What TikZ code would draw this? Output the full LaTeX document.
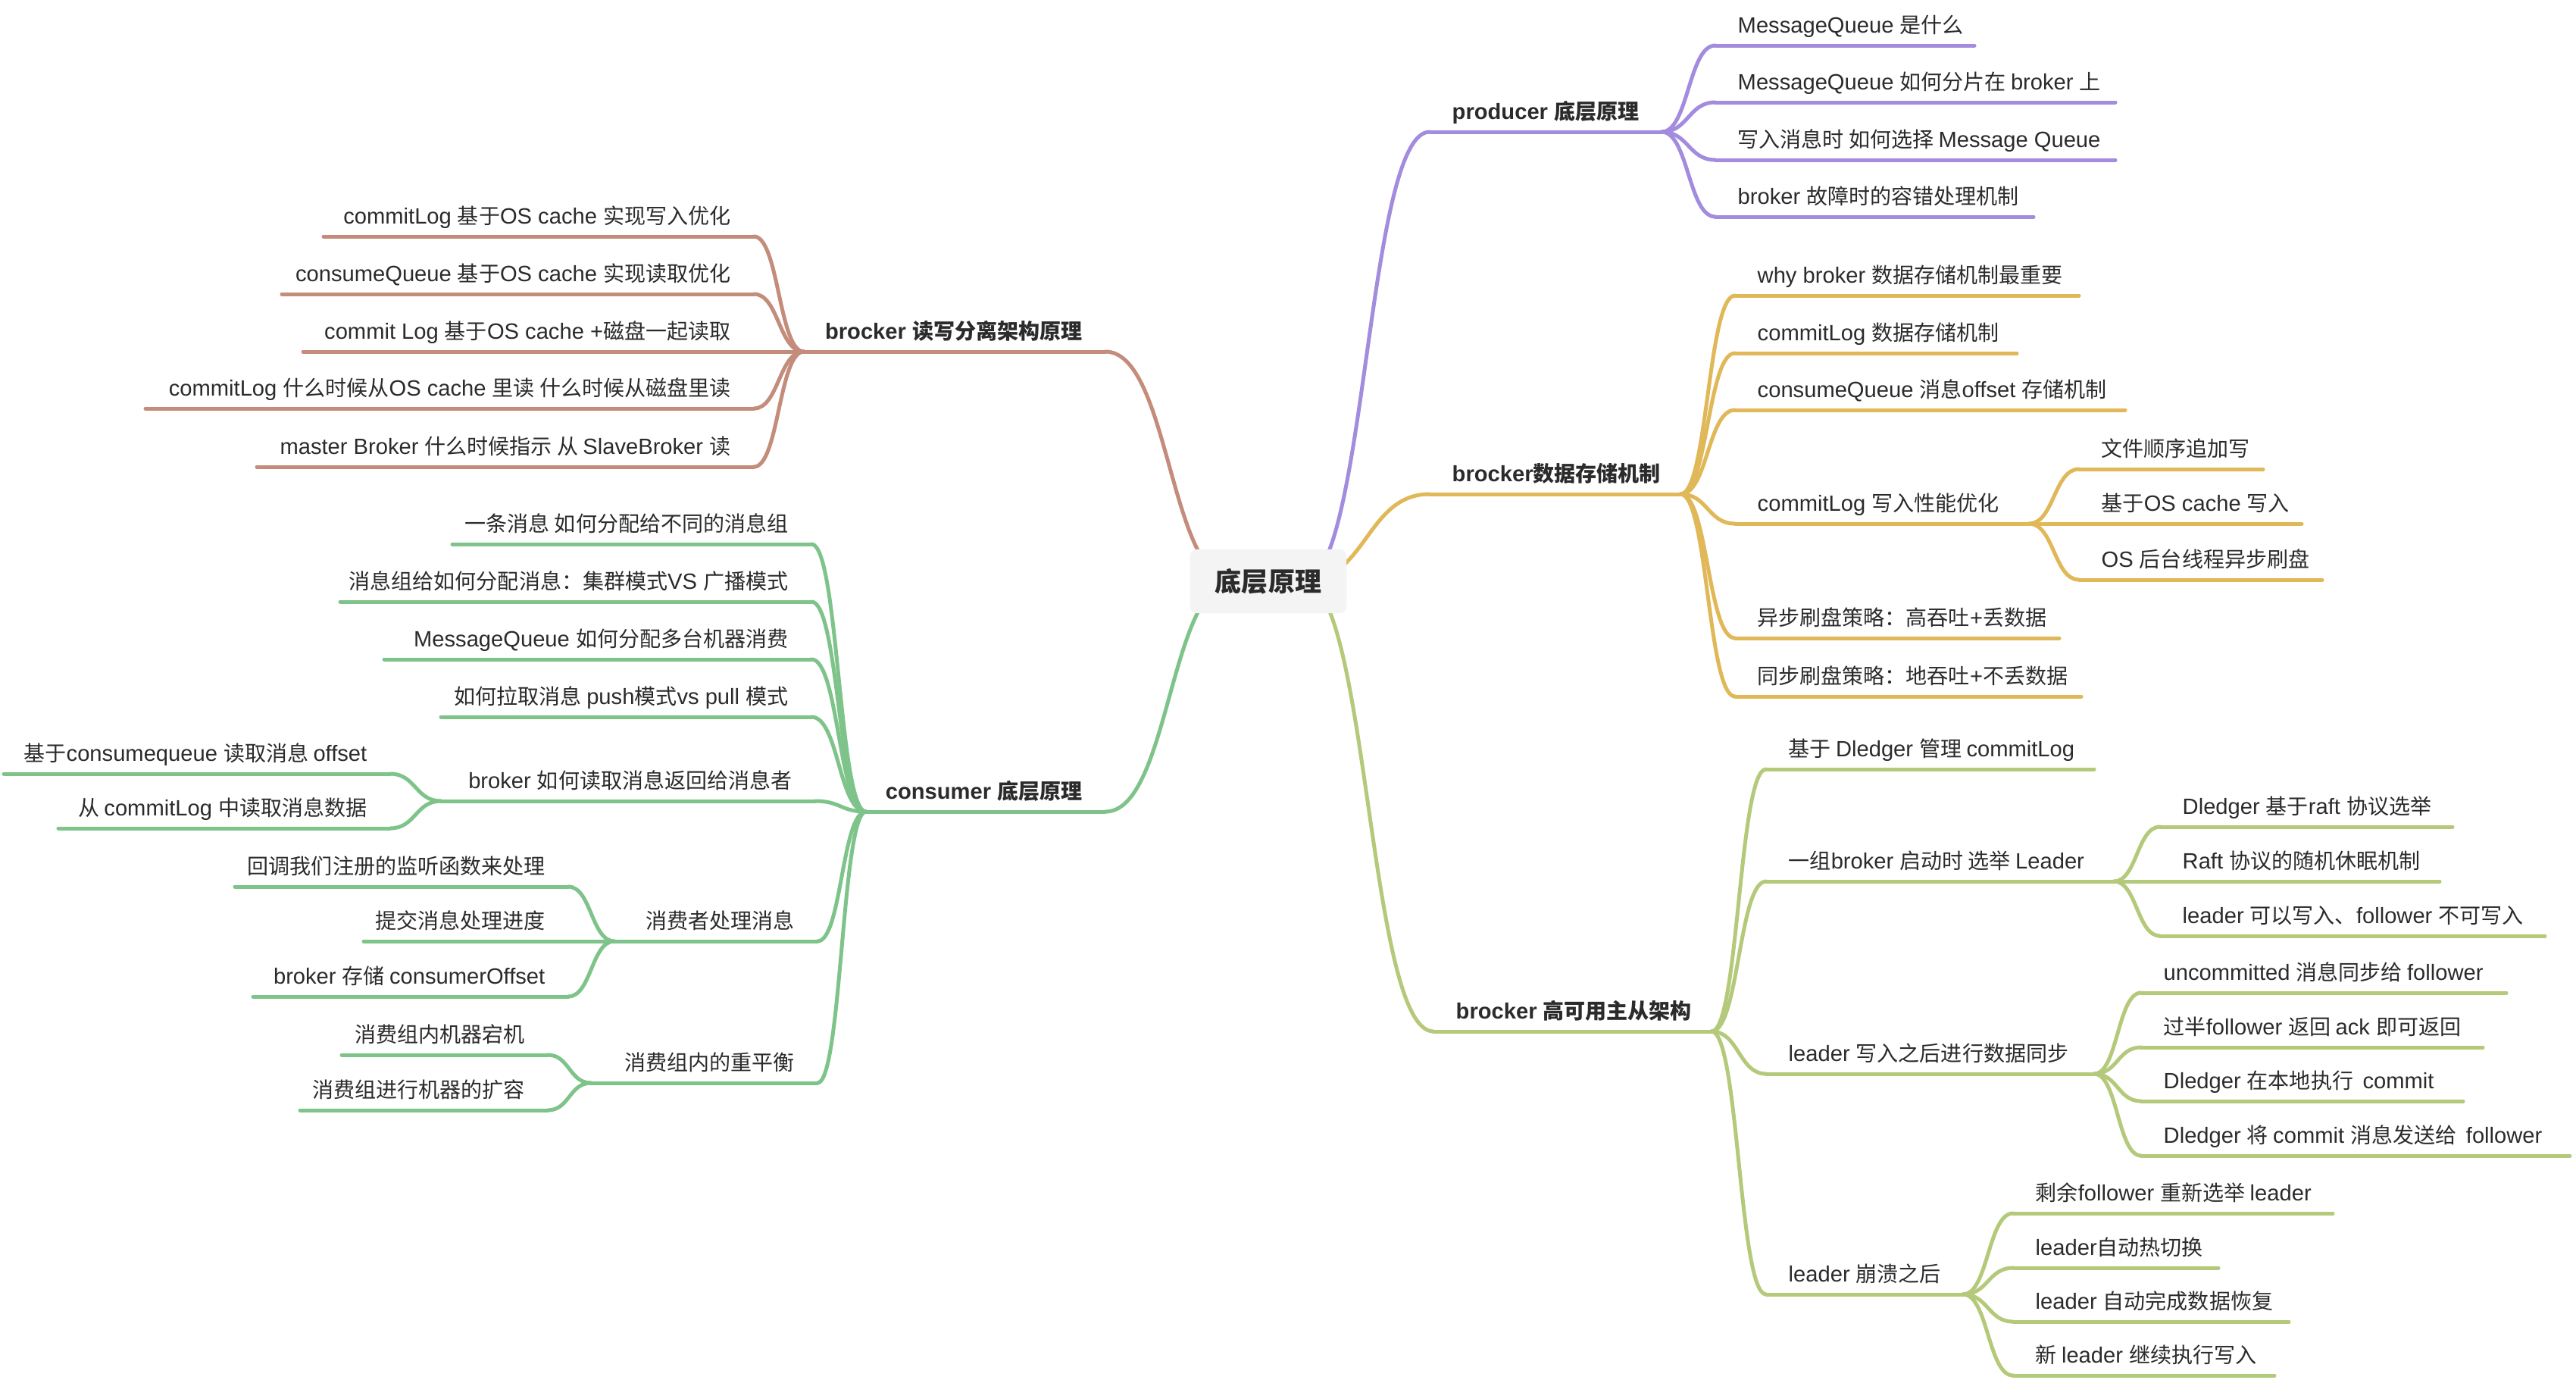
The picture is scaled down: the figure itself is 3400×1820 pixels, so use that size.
\documentclass[tikz,border=0pt]{standalone}
\usepackage{fontspec}
\setmainfont{Liberation Sans}[Scale=1.04]
\newfontfamily\cjkfont{Noto Sans CJK SC}
\usetikzlibrary{calc,backgrounds}
% automatic switch between Latin and CJK fonts
\XeTeXinterchartokenstate=1
\newXeTeXintercharclass\CJKcls
\newcount\cjkc
\cjkc="4E00
\loop
  \XeTeXcharclass\cjkc=\CJKcls
  \ifnum\cjkc<"9FFF \advance\cjkc by 1
\repeat
\XeTeXcharclass"3001=\CJKcls
\XeTeXcharclass"3002=\CJKcls
\XeTeXcharclass"FF1A=\CJKcls
\XeTeXcharclass"FF0C=\CJKcls
\XeTeXinterchartoks 0 \CJKcls = {\cjkfont}
\XeTeXinterchartoks 4095 \CJKcls = {\cjkfont}
\XeTeXinterchartoks \CJKcls 0 = {\rmfamily}
\XeTeXinterchartoks 4095 0 = {\rmfamily}

\definecolor{purp}{HTML}{A38BDE}
\definecolor{gold}{HTML}{E0B858}
\definecolor{olive}{HTML}{B4CA7A}
\definecolor{brwn}{HTML}{C48C7A}
\definecolor{grn}{HTML}{7EC48A}
\definecolor{txtc}{HTML}{2B2B2B}
\definecolor{rootfill}{HTML}{F4F4F4}

\pgfdeclarelayer{bg}
\pgfsetlayers{bg,background,main}

\tikzset{
  ul/.style={line width=0.05cm, line cap=round},
  cn/.style={line width=0.05cm, line cap=round},
  txt/.style={inner sep=0pt, text=txtc, font=\fontsize{7.97}{9}\selectfont},
  btxt/.style={inner sep=0pt, text=txtc, font=\fontsize{7.97}{9}\selectfont\bfseries},
  rootbox/.style={fill=rootfill, rounded corners=0.08cm, minimum width=2.06cm,
    minimum height=0.84cm, inner sep=0pt, text=txtc, font=\fontsize{9.96}{12}\selectfont\bfseries},
}

% right-side topic: name, x0, x1, y, text
\newcommand\RN[6][txt]{%
  \coordinate (#2-l) at (#3,#5);
  \coordinate (#2-r) at (#4,#5);
  \draw[ul] (#2-l) -- (#2-r);
  \node[#1, anchor=base west] (#2) at ($(#2-l)+(29,-17)$) {#6};
}
% left-side topic
\newcommand\LN[6][txt]{%
  \coordinate (#2-l) at (#3,#5);
  \coordinate (#2-r) at (#4,#5);
  \draw[ul] (#2-l) -- (#2-r);
  \node[#1, anchor=base east] (#2) at ($(#2-r)+(-30,-17)$) {#6};
}
% connector
\newcommand\LK[3][]{%
  \draw[cn,#1] let \p1=(#2), \p2=(#3) in (\p1) .. controls ({0.5*\x1+0.5*\x2},\y1) and ({0.5*\x1+0.5*\x2},\y2) .. (\p2);
}

\begin{document}
\begin{tikzpicture}[x=0.01cm, y=-0.01cm]
\begin{pgfonlayer}{bg}
  \fill[white] (0,0) rectangle (3400,1820);
\end{pgfonlayer}
\useasboundingbox (0,0) rectangle (3400,1820);

% root
\node[rootbox] (root) at (1674,767) {底层原理};
\coordinate (root-e) at ($(root.center)+(46,0)$);
\coordinate (root-w) at ($(root.center)+(-46,0)$);

% ---------------- producer ----------------
\begin{scope}[color=purp]
\RN[btxt]{P}{1887}{2193}{174}{producer 底层原理}
\RN{p1}{2264}{2606}{60}{MessageQueue 是什么}
\RN{p2}{2264}{2792}{135}{MessageQueue 如何分片在 broker 上}
\RN{p3}{2264}{2792}{211}{写入消息时 如何选择 Message Queue}
\RN{p4}{2264}{2684}{286}{broker 故障时的容错处理机制}
\LK{P-r}{p1-l}
\LK{P-r}{p2-l}
\LK{P-r}{p3-l}
\LK{P-r}{p4-l}
\begin{pgfonlayer}{background}\LK[purp]{root-e}{P-l}\end{pgfonlayer}
\end{scope}

% ---------------- storage ----------------
\begin{scope}[color=gold]
\RN[btxt]{S}{1887}{2218}{652}{brocker数据存储机制}
\RN{s1}{2290}{2744}{390}{why broker 数据存储机制最重要}
\RN{s2}{2290}{2662}{466}{commitLog 数据存储机制}
\RN{s3}{2290}{2805}{541}{consumeQueue 消息offset 存储机制}
\RN{s4}{2290}{2678}{691}{commitLog 写入性能优化}
\RN{s41}{2744}{2987}{619}{文件顺序追加写}
\RN{s42}{2744}{3038}{691}{基于OS cache 写入}
\RN{s43}{2744}{3065}{765}{OS 后台线程异步刷盘}
\RN{s5}{2290}{2718}{842}{异步刷盘策略：高吞吐+丢数据}
\RN{s6}{2290}{2747}{919}{同步刷盘策略：地吞吐+不丢数据}
\LK{S-r}{s1-l}
\LK{S-r}{s2-l}
\LK{S-r}{s3-l}
\LK{S-r}{s4-l}
\LK{S-r}{s5-l}
\LK{S-r}{s6-l}
\LK{s4-r}{s41-l}
\LK{s4-r}{s42-l}
\LK{s4-r}{s43-l}
\begin{pgfonlayer}{background}\LK[gold]{root-e}{S-l}\end{pgfonlayer}
\end{scope}

% ---------------- high availability ----------------
\begin{scope}[color=olive]
\RN[btxt]{H}{1892}{2259}{1361}{brocker 高可用主从架构}
\RN{h1}{2331}{2764}{1015}{基于 Dledger 管理 commitLog}
\RN{h2}{2331}{2790}{1163}{一组broker 启动时 选举 Leader}
\RN{h21}{2851}{3237}{1091}{Dledger 基于raft 协议选举}
\RN{h22}{2851}{3220}{1163}{Raft 协议的随机休眠机制}
\RN{h23}{2851}{3359}{1235}{leader 可以写入、follower 不可写入}
\RN{h3}{2331}{2764}{1417}{leader 写入之后进行数据同步}
\RN{h31}{2826}{3308}{1310}{uncommitted 消息同步给 follower}
\RN{h32}{2826}{3277}{1382}{过半follower 返回 ack 即可返回}
\RN{h33}{2826}{3251}{1453}{Dledger 在本地执行\ \ commit}
\RN{h34}{2826}{3392}{1525}{Dledger 将 commit 消息发送给\ \ follower}
\RN{h4}{2331}{2591}{1708}{leader 崩溃之后}
\RN{h41}{2657}{3079}{1601}{剩余follower 重新选举 leader}
\RN{h42}{2657}{2928}{1673}{leader自动热切换}
\RN{h43}{2657}{3021}{1744}{leader 自动完成数据恢复}
\RN{h44}{2657}{3002}{1815}{新 leader 继续执行写入}
\LK{H-r}{h1-l}
\LK{H-r}{h2-l}
\LK{H-r}{h3-l}
\LK{H-r}{h4-l}
\LK{h2-r}{h21-l}
\LK{h2-r}{h22-l}
\LK{h2-r}{h23-l}
\LK{h3-r}{h31-l}
\LK{h3-r}{h32-l}
\LK{h3-r}{h33-l}
\LK{h3-r}{h34-l}
\LK{h4-r}{h41-l}
\LK{h4-r}{h42-l}
\LK{h4-r}{h43-l}
\LK{h4-r}{h44-l}
\begin{pgfonlayer}{background}\LK[olive]{root-e}{H-l}\end{pgfonlayer}
\end{scope}

% ---------------- read/write separation ----------------
\begin{scope}[color=brwn]
\LN[btxt]{B}{1061}{1459}{464}{brocker 读写分离架构原理}
\LN{b1}{427}{995}{312}{commitLog 基于OS cache 实现写入优化}
\LN{b2}{372}{995}{388}{consumeQueue 基于OS cache 实现读取优化}
\LN{b3}{400}{995}{464}{commit Log 基于OS cache +磁盘一起读取}
\LN{b4}{192}{995}{539}{commitLog 什么时候从OS cache 里读 什么时候从磁盘里读}
\LN{b5}{339}{995}{616}{master Broker 什么时候指示 从 SlaveBroker 读}
\LK{B-l}{b1-r}
\LK{B-l}{b2-r}
\LK{B-l}{b3-r}
\LK{B-l}{b4-r}
\LK{B-l}{b5-r}
\begin{pgfonlayer}{background}\LK[brwn]{root-w}{B-r}\end{pgfonlayer}
\end{scope}

% ---------------- consumer ----------------
\begin{scope}[color=grn]
\LN[btxt]{C}{1143}{1459}{1071}{consumer 底层原理}
\LN{c1}{597}{1071}{718}{一条消息 如何分配给不同的消息组}
\LN{c2}{449}{1071}{794}{消息组给如何分配消息：集群模式VS 广播模式}
\LN{c3}{507}{1071}{870}{MessageQueue 如何分配多台机器消费}
\LN{c4}{582}{1071}{946}{如何拉取消息 push模式vs pull 模式}
\LN{c5}{582}{1076}{1057}{broker 如何读取消息返回给消息者}
\LN{c51}{5}{515}{1021}{基于consumequeue 读取消息 offset}
\LN{c52}{77}{515}{1093}{从 commitLog 中读取消息数据}
\LN{c6}{811}{1079}{1242}{消费者处理消息}
\LN{c61}{310}{750}{1170}{回调我们注册的监听函数来处理}
\LN{c62}{480}{750}{1242}{提交消息处理进度}
\LN{c63}{334}{750}{1315}{broker 存储 consumerOffset}
\LN{c7}{780}{1079}{1429}{消费组内的重平衡}
\LN{c71}{451}{723}{1392}{消费组内机器宕机}
\LN{c72}{396}{723}{1465}{消费组进行机器的扩容}
\LK{C-l}{c1-r}
\LK{C-l}{c2-r}
\LK{C-l}{c3-r}
\LK{C-l}{c4-r}
\LK{C-l}{c5-r}
\LK{C-l}{c6-r}
\LK{C-l}{c7-r}
\LK{c5-l}{c51-r}
\LK{c5-l}{c52-r}
\LK{c6-l}{c61-r}
\LK{c6-l}{c62-r}
\LK{c6-l}{c63-r}
\LK{c7-l}{c71-r}
\LK{c7-l}{c72-r}
\begin{pgfonlayer}{background}\LK[grn]{root-w}{C-r}\end{pgfonlayer}
\end{scope}
\end{tikzpicture}
\end{document}
